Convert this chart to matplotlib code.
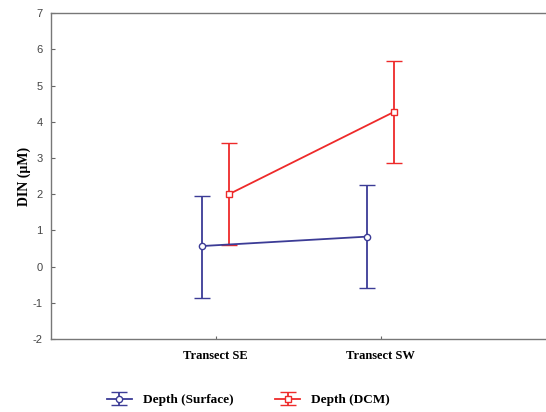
import numpy as np
import matplotlib.pyplot as plt

# DIN means and error bars
transects = ["Transect SE", "Transect SW"]
surface_mean = [0.57, 0.83]
surface_low = [-0.87, -0.58]
surface_high = [1.96, 2.25]
dcm_mean = [2.0, 4.27]
dcm_low = [0.6, 2.86]
dcm_high = [3.41, 5.68]

blue = "#3c3c96"
red = "#ee2a2a"

plt.rcParams["axes.unicode_minus"] = False

fig = plt.figure(figsize=(5.46, 4.12), dpi=100)
ax = fig.add_axes([0.093, 0.177, 0.906, 0.791])

x = np.arange(len(transects))
off = 0.08


def draw(xs, mean, low, high, color, marker, label):
    mean = np.array(mean)
    yerr = [mean - np.array(low), np.array(high) - mean]
    return ax.errorbar(xs, mean, yerr=yerr, color=color, lw=1.3, elinewidth=1.3,
                       capsize=6, capthick=1.3, marker=marker, ms=4.5,
                       mfc="white", mec=color, mew=1.0, label=label, zorder=3)


h1 = draw(x - off, surface_mean, surface_low, surface_high, blue, "o", "Depth (Surface)")
h2 = draw(x + off, dcm_mean, dcm_low, dcm_high, red, "s", "Depth (DCM)")

ax.set_xlim(-1, 2)
ax.set_ylim(-2, 7)
ax.set_yticks(range(-2, 8))
ax.set_xticks(x)
ax.set_xticklabels(transects, fontfamily="Liberation Serif", fontweight="bold", fontsize=9)
for lab in ax.get_yticklabels():
    lab.set_fontfamily("Liberation Sans")
    lab.set_color("#444444")
ax.tick_params(axis="y", direction="in", length=3, labelsize=8, pad=6, color="#666666")
ax.tick_params(axis="x", direction="in", length=2, pad=8, color="#666666")
for s in ax.spines.values():
    s.set_color("#777777")
    s.set_linewidth(1.0)
ax.spines["right"].set_visible(False)

ax.set_ylabel("DIN (µM)", fontfamily="Liberation Serif", fontweight="bold", fontsize=10, labelpad=1)

fig.legend(handles=[h1, h2], loc="lower left", bbox_to_anchor=(0.174, -0.015), ncol=2,
           frameon=False, columnspacing=3.2, handlelength=1.9, handletextpad=0.8,
           prop={"family": "Liberation Serif", "weight": "bold", "size": 9.5})

fig.savefig("out.png", dpi=100)
